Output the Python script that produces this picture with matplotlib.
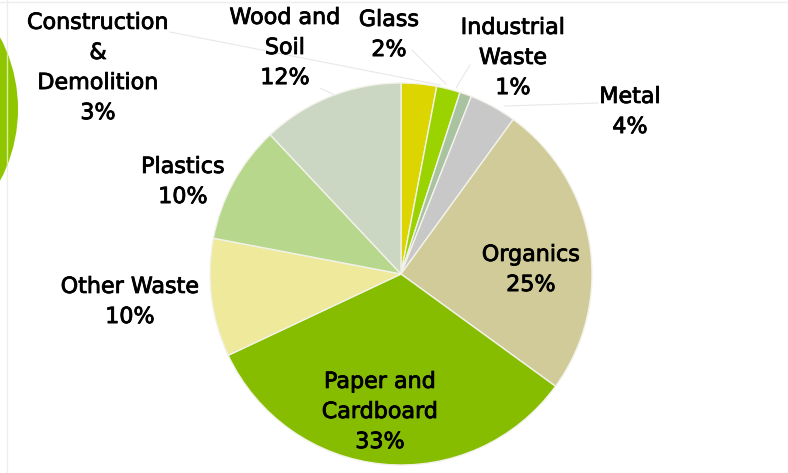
import matplotlib.pyplot as plt
import matplotlib.patheffects as pe
from matplotlib.patches import Circle

# waste composition (%), clockwise from 12 o'clock
categories = ["Construction\n&\nDemolition", "Glass", "Industrial\nWaste", "Metal",
              "Organics", "Paper and\nCardboard", "Other Waste", "Plastics", "Wood and\nSoil"]
shares = [3, 2, 1, 4, 25, 33, 10, 10, 12]
colors = ["#DCD500", "#9AD300", "#A9C2A1", "#C8C8C8", "#D0CB98",
          "#87BD00", "#EFE99C", "#B7D88C", "#CBD7C2"]

# label layout in pixel coords (x, y from top) and faint leader lines
label_pos = [(98, 68), (389, 35), (513, 58), (630, 112),
             (531, 270), (380, 412), (130, 302), (183, 182), (285, 48)]
leaders = [((170, 32), (440, 85)), ((412, 50), (446, 84)), ((470, 65), (456, 88)),
           ((598, 103), (505, 106)), None, None, None, None, ((320, 88), (345, 100))]

W, H = 788, 473
fig = plt.figure(figsize=(W / 100, H / 100), dpi=100)
ax = fig.add_axes([0, 0, 1, 1])
ax.set_xlim(0, W)
ax.set_ylim(0, H)
ax.set_aspect("equal")
ax.axis("off")

# slide decoration: green disc cut by the left edge, faint guide lines
ax.plot([7, 7], [0, H], color="#EDEDED", lw=1.0, zorder=0.5)
ax.plot([0, W], [H - 2, H - 2], color="#EDEDED", lw=1.0, zorder=0.5)
disc = Circle((-135, H - 109), 153, facecolor="#8FC600", edgecolor="none", zorder=1)
ax.add_patch(disc)
inner, = ax.plot([7, 7], [0, H], color="#D8EC9A", lw=1.0, zorder=1.5)
inner.set_clip_path(disc)

cx, cy, r = 401, H - 274, 191
wedges, _ = ax.pie(shares, colors=colors, startangle=90, counterclock=False,
                   center=(cx, cy), radius=r,
                   wedgeprops=dict(edgecolor="#F2F2EA", linewidth=1.0))
ax.set_xlim(0, W)
ax.set_ylim(0, H)

for lead in leaders:
    if lead is None:
        continue
    (x0, y0), (x1, y1) = lead
    ax.plot([x0, x1], [H - y0, H - y1], color="#E8E8E8", lw=0.8, zorder=0)

for name, pct, (x, y) in zip(categories, shares, label_pos):
    ax.text(x, H - y, f"{name}\n{pct}%", ha="center", va="center",
            fontsize=16, color="#000000", linespacing=1.63,
            fontfamily="DejaVu Sans",
            path_effects=[pe.withStroke(linewidth=0.6, foreground="#000000")])

fig.savefig("out.png", dpi=100)
